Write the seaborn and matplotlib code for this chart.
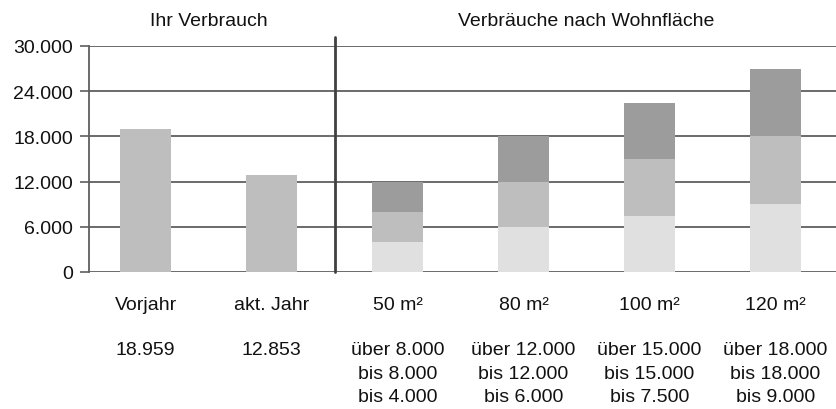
import numpy as np
import pandas as pd
import matplotlib
matplotlib.use("Agg")
import matplotlib.pyplot as plt
import matplotlib.transforms as mtransforms
from matplotlib.ticker import FuncFormatter
import seaborn as sns

# data
categories = ["Vorjahr", "akt. Jahr", "50 m²", "80 m²", "100 m²", "120 m²"]
own_labels = ["Vorjahr", "akt. Jahr"]
own_values = [18959, 12853]
area_labels = ["50 m²", "80 m²", "100 m²", "120 m²"]
area_top = [12000, 18000, 22500, 27000]
area_mid = [8000, 12000, 15000, 18000]
area_low = [4000, 6000, 7500, 9000]

row1 = ["18.959", "12.853", "über 8.000", "über 12.000", "über 15.000", "über 18.000"]
row2 = ["", "", "bis 8.000", "bis 12.000", "bis 15.000", "bis 18.000"]
row3 = ["", "", "bis 4.000", "bis 6.000", "bis 7.500", "bis 9.000"]

group_titles = ["Ihr Verbrauch", "Verbräuche nach Wohnfläche"]
group_centers = [0.5, 3.5]

yticks = [0, 6000, 12000, 18000, 24000, 30000]

sns.set_style("white")
plt.rcParams["font.family"] = ["Liberation Sans", "DejaVu Sans"]
FS = 14

W, H = 837, 410
fig = plt.figure(figsize=(W / 100, H / 100), dpi=100)
ax_left, ax_top, ax_bottom = 89, 47, 273
ax = fig.add_axes([ax_left / W, (H - ax_bottom) / H,
                   (W - ax_left) / W, (ax_bottom - ax_top) / H])

dark, mid, light = "#9c9c9c", "#bebebe", "#e0e0e0"
bw = 0.405

df_area = pd.DataFrame({"cat": area_labels, "top": area_top,
                        "mid": area_mid, "low": area_low})
df_own = pd.DataFrame({"cat": own_labels, "val": own_values})

sns.barplot(data=df_area, x="cat", y="top", order=categories, color=dark,
            width=bw, saturation=1, ax=ax)
sns.barplot(data=df_area, x="cat", y="mid", order=categories, color=mid,
            width=bw, saturation=1, ax=ax)
sns.barplot(data=df_area, x="cat", y="low", order=categories, color=light,
            width=bw, saturation=1, ax=ax)
sns.barplot(data=df_own, x="cat", y="val", order=categories, color=mid,
            width=bw, saturation=1, ax=ax)
for p in ax.patches:
    p.set_linewidth(0)

ax.set_xlim(-0.45, 5.49)
ax.set_ylim(0, 30000)
ax.set_axisbelow(True)
ax.set_yticks(yticks)
ax.yaxis.set_major_formatter(FuncFormatter(lambda v, _: f"{v:,.0f}".replace(",", ".")))
ax.grid(axis="y", color="#5f5f5f", lw=1.3)
ax.grid(axis="x", visible=False)
ax.set_xlabel("")
ax.set_ylabel("")

for s in ["top", "right", "bottom"]:
    ax.spines[s].set_visible(False)
ax.spines["left"].set_color("#5f5f5f")
ax.spines["left"].set_linewidth(1.3)

ax.tick_params(axis="y", left=True, length=6.5, width=1.2, color="#5f5f5f",
               pad=5, labelsize=FS, labelcolor="#111111")
ax.tick_params(axis="x", length=0, pad=17, labelsize=FS, labelcolor="#111111")

# separator between the two groups
ax.axvline(1.5, ymin=0, ymax=(ax_bottom - 38) / (ax_bottom - ax_top),
           color="#404040", lw=2, clip_on=False)

ax_h = ax_bottom - ax_top
trans = mtransforms.blended_transform_factory(ax.transData, ax.transAxes)
for title, cx in zip(group_titles, group_centers):
    ax.text(cx, (ax_bottom - 22) / ax_h, title, transform=trans, ha="center",
            va="center", fontsize=FS, color="#111111")

for ypx, row in zip([351, 374.5, 398], [row1, row2, row3]):
    for i, t in enumerate(row):
        if t:
            ax.text(i, (ax_bottom - ypx) / ax_h, t, transform=trans, ha="center",
                    va="center", fontsize=FS, color="#111111")

fig.savefig("out.png", dpi=100)
